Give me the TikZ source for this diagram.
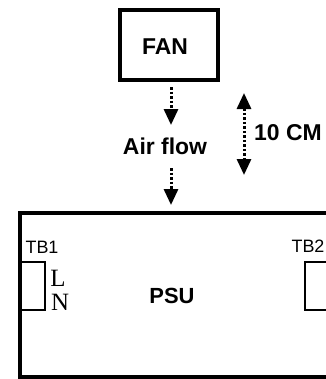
\documentclass[tikz,border=0pt]{standalone}
\usepackage{fontspec}
\setmainfont{Liberation Serif}
\setsansfont{Liberation Sans}
\usetikzlibrary{arrows.meta}
\begin{document}
\begin{tikzpicture}[x=1bp,y=-1bp,
  box/.style={draw, line width=4bp, outer sep=0pt, inner sep=0pt},
  tbbox/.style={draw, line width=1.5bp, outer sep=0pt, inner sep=0pt},
  lbl/.style={font=\sffamily\bfseries\fontsize{23}{25}\selectfont, inner sep=0pt},
  tblbl/.style={font=\sffamily\fontsize{18}{20}\selectfont, inner sep=0pt},
  pin/.style={font=\rmfamily\fontsize{25}{27}\selectfont, inner sep=0pt},
  tip/.tip={Triangle[width=14bp,length=16bp]},
  flow/.style={line width=3bp, dash pattern=on 2.5bp off 2bp, -tip},
  dflow/.style={line width=3bp, dash pattern=on 2.5bp off 2bp, tip-tip},
  ]
\useasboundingbox (0,0) rectangle (326,379);
\clip (0,0) rectangle (326,379);
% fan
\node[box, minimum width=98bp, minimum height=70bp] (fan) at (169,45) {};
\node[lbl] (fantext) at (165,47) {FAN};
% air flow
\node[lbl] (air) at (165,146) {Air flow};
\coordinate (a1s) at (171,87);
\coordinate (a1e) at (171,125);
\coordinate (a2s) at (171,168);
\coordinate (a2e) at (171,205);
\draw[flow] (a1s) -- (a1e);
\draw[flow] (a2s) -- (a2e);
% distance
\coordinate (d1) at (244,93);
\coordinate (d2) at (244,175);
\draw[dflow] (d1) -- (d2);
\node[lbl, anchor=west] (dist) at (254,133) {10 CM};
% psu
\node[box, anchor=north west, minimum width=330bp, minimum height=164.5bp] (psu) at (20,212.5) {};
\node[lbl, font=\sffamily\bfseries\fontsize{22}{24}\selectfont] (psutext) at (172,296) {PSU};
% terminal blocks
\node[tbbox, anchor=north west, minimum width=25bp, minimum height=48bp] (tb1) at (20,262) {};
\node[tblbl] (tb1text) at (42,247) {TB1};
\node[pin] (pl) at (58,278) {L};
\node[pin] (pn) at (60,302) {N};
\node[tbbox, anchor=north west, minimum width=40bp, minimum height=48bp] (tb2) at (305,262) {};
\node[tblbl] (tb2text) at (308,246) {TB2};
\end{tikzpicture}
\end{document}
